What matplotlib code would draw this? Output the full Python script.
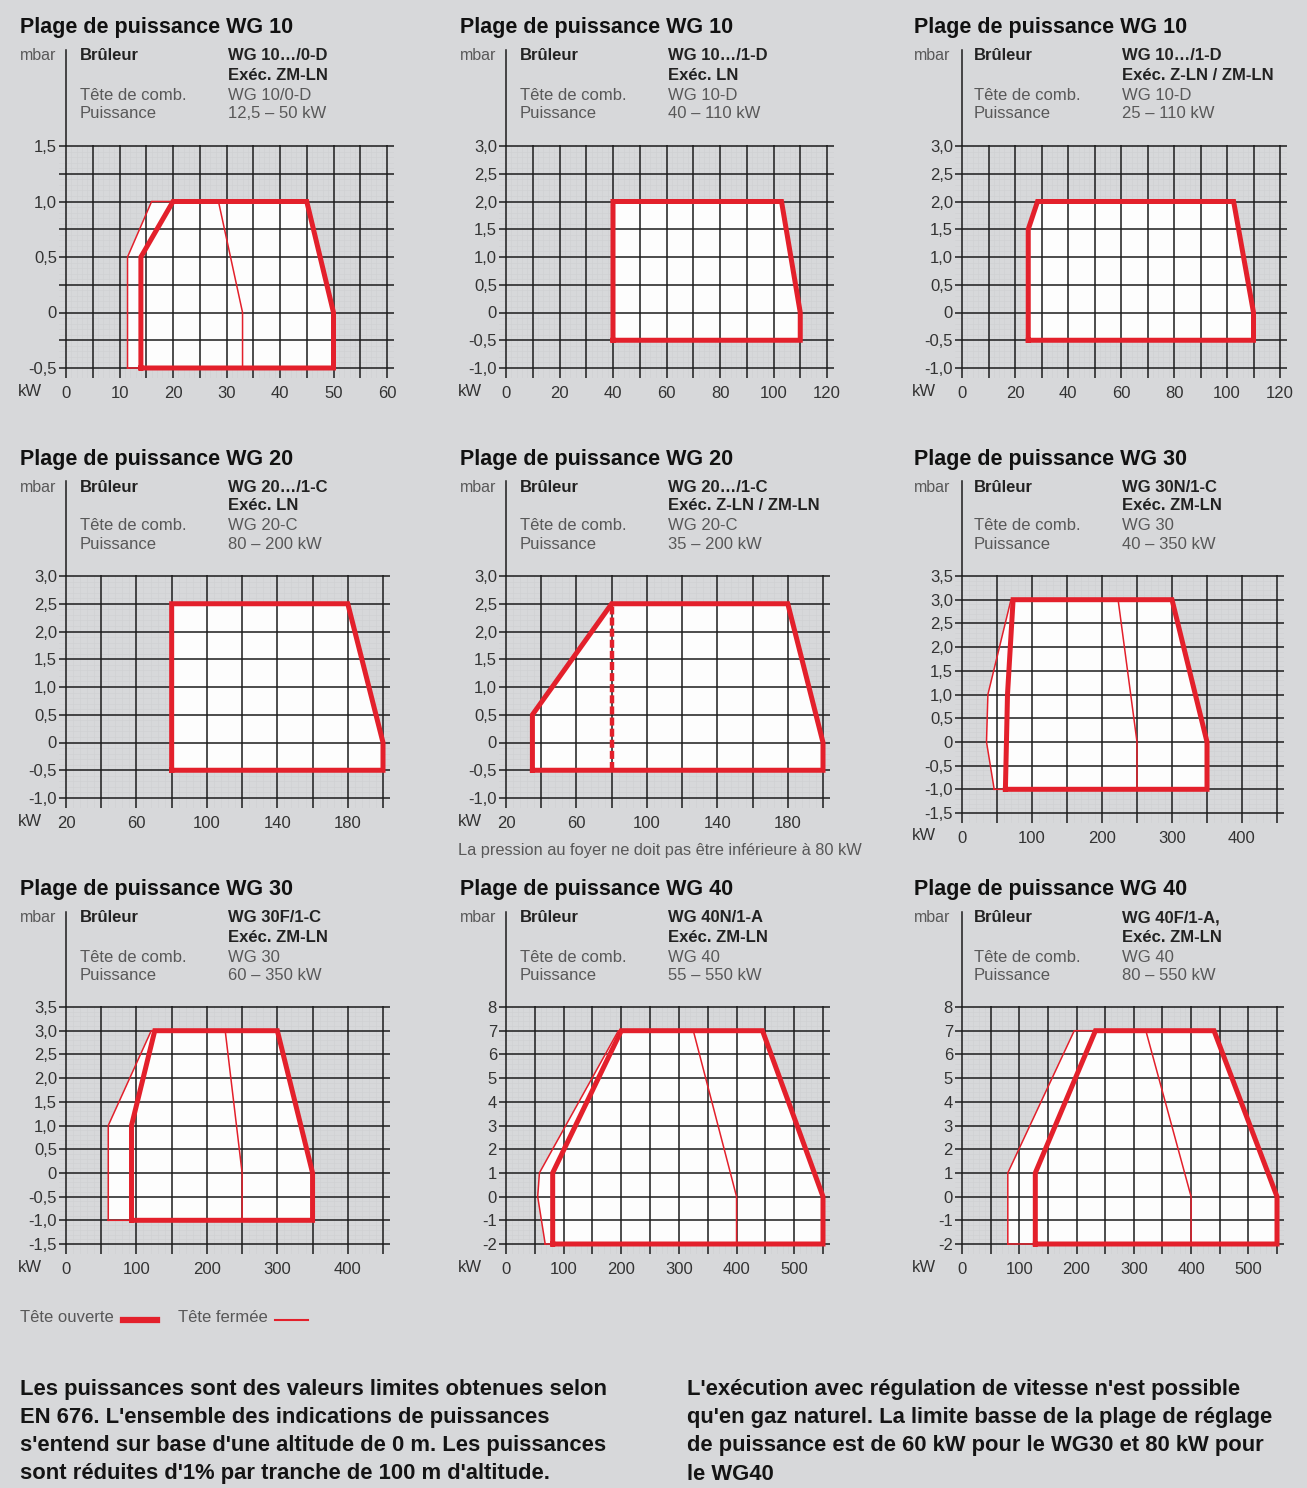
import numpy as np
import matplotlib.pyplot as plt
from matplotlib.lines import Line2D

plt.rcParams['font.family'] = ['Liberation Sans', 'DejaVu Sans']

# panel headers
titles = ["Plage de puissance WG 10", "Plage de puissance WG 10", "Plage de puissance WG 10",
          "Plage de puissance WG 20", "Plage de puissance WG 20", "Plage de puissance WG 30",
          "Plage de puissance WG 30", "Plage de puissance WG 40", "Plage de puissance WG 40"]
burners = ["WG 10…/0-D", "WG 10…/1-D", "WG 10…/1-D", "WG 20…/1-C", "WG 20…/1-C",
           "WG 30N/1-C", "WG 30F/1-C", "WG 40N/1-A", "WG 40F/1-A,"]
execs = ["Exéc. ZM-LN", "Exéc. LN", "Exéc. Z-LN / ZM-LN", "Exéc. LN", "Exéc. Z-LN / ZM-LN",
         "Exéc. ZM-LN", "Exéc. ZM-LN", "Exéc. ZM-LN", "Exéc. ZM-LN"]
heads = ["WG 10/0-D", "WG 10-D", "WG 10-D", "WG 20-C", "WG 20-C", "WG 30", "WG 30", "WG 40", "WG 40"]
powers = ["12,5 – 50 kW", "40 – 110 kW", "25 – 110 kW", "80 – 200 kW", "35 – 200 kW",
          "40 – 350 kW", "60 – 350 kW", "55 – 550 kW", "80 – 550 kW"]

# axis scales (kW / mbar)
x_ranges = [(0, 60), (0, 120), (0, 120), (20, 200), (20, 200), (0, 450), (0, 450), (0, 550), (0, 550)]
x_grid = [5, 10, 10, 20, 20, 50, 50, 50, 50]
x_lab = [10, 20, 20, 40, 40, 100, 100, 100, 100]
y_ranges = [(-0.5, 1.5), (-1, 3), (-1, 3), (-1, 3), (-1, 3), (-1.5, 3.5), (-1.5, 3.5), (-2, 8), (-2, 8)]
y_grid = [0.25, 0.5, 0.5, 0.5, 0.5, 0.5, 0.5, 1, 1]
y_lab = [0.5, 0.5, 0.5, 0.5, 0.5, 0.5, 0.5, 1, 1]

# working ranges: tete ouverte (thick) / tete fermee (thin)
p1_open_x = [14, 14, 20, 45, 50, 50]
p1_open_y = [-0.5, 0.5, 1.0, 1.0, 0, -0.5]
p1_closed_x = [11.5, 11.5, 16, 28.5, 33, 33]
p1_closed_y = [-0.5, 0.5, 1.0, 1.0, 0, -0.5]

p2_open_x = [40, 40, 103, 110, 110]
p2_open_y = [-0.5, 2.0, 2.0, 0, -0.5]

p3_open_x = [25, 25, 28.5, 102.5, 110, 110]
p3_open_y = [-0.5, 1.5, 2.0, 2.0, 0, -0.5]

p4_open_x = [80, 80, 180, 200, 200]
p4_open_y = [-0.5, 2.5, 2.5, 0, -0.5]

p5_open_x = [35, 35, 80, 180, 200, 200]
p5_open_y = [-0.5, 0.5, 2.5, 2.5, 0, -0.5]
p5_limit_x = [80, 80]
p5_limit_y = [-0.5, 2.5]

p6_open_x = [62, 65, 73, 300, 350, 350]
p6_open_y = [-1, 1, 3, 3, 0, -1]
p6_closed_x = [46, 35, 37, 70, 223, 250, 250]
p6_closed_y = [-1, 0, 1, 3, 3, 0, -1]

p7_open_x = [93, 93, 126, 300, 350, 350]
p7_open_y = [-1, 1, 3, 3, 0, -1]
p7_closed_x = [60, 60, 121, 226, 250, 250]
p7_closed_y = [-1, 1, 3, 3, 0, -1]

p8_open_x = [81, 81, 200, 445, 550, 550]
p8_open_y = [-2, 1, 7, 7, 0, -2]
p8_closed_x = [68, 55, 58, 195, 325, 400, 400]
p8_closed_y = [-2, 0, 1, 7, 7, 0, -2]

p9_open_x = [128, 128, 233, 440, 550, 550]
p9_open_y = [-2, 1, 7, 7, 0, -2]
p9_closed_x = [80, 80, 196, 321, 400, 400]
p9_closed_y = [-2, 1, 7, 7, 0, -2]

opens = [(p1_open_x, p1_open_y), (p2_open_x, p2_open_y), (p3_open_x, p3_open_y),
         (p4_open_x, p4_open_y), (p5_open_x, p5_open_y), (p6_open_x, p6_open_y),
         (p7_open_x, p7_open_y), (p8_open_x, p8_open_y), (p9_open_x, p9_open_y)]
closeds = [(p1_closed_x, p1_closed_y), None, None, None, None, (p6_closed_x, p6_closed_y),
           (p7_closed_x, p7_closed_y), (p8_closed_x, p8_closed_y), (p9_closed_x, p9_closed_y)]

BG = '#d7d8da'
RED = '#e3202b'
GRAY = '#585858'
DARK = '#1c1c1c'
W, H = 1307, 1488

# layout in pixels
axis_left = [66, 506, 962]
axis_right = [[387, 827, 1280], [383, 823, 1277], [383, 823, 1277]]
grid_top = [146, 576, 1007]
grid_bottom = [[368, 368, 368], [798, 798, 813], [1244, 1244, 1244]]
col_off = [0, 440, 894]
row_off = [0, 431, 862]
EXT_X, EXT_Y = 7, 10

fig = plt.figure(figsize=(W / 100, H / 100), dpi=100)
fig.patch.set_facecolor(BG)


def ftext(x, y, s, **kw):
    fig.text(x / W, 1 - y / H, s, va='center', **kw)


def fmt_y(v, step):
    if abs(v) < 1e-9:
        return "0"
    if step < 1:
        return f"{v:.1f}".replace(".", ",")
    return f"{v:g}"


for i in range(9):
    r, c = divmod(i, 3)
    x0p, x1p = axis_left[c], axis_right[r][c]
    y1p, y0p = grid_top[r], grid_bottom[r][c]
    xr, yr = x_ranges[i], y_ranges[i]
    sx = (xr[1] - xr[0]) / (x1p - x0p)
    sy = (yr[1] - yr[0]) / (y0p - y1p)
    left, right = x0p - EXT_X, x1p + EXT_X
    top, bottom = y1p - 1, y0p + EXT_Y
    ax = fig.add_axes([left / W, 1 - bottom / H, (right - left) / W, (bottom - top) / H])
    ax.set_facecolor('none')
    ax.set_xlim(xr[0] - EXT_X * sx, xr[1] + EXT_X * sx)
    ax.set_ylim(yr[0] - EXT_Y * sy, yr[1] + sy)
    for s in ax.spines.values():
        s.set_visible(False)

    xt = np.arange(xr[0], xr[1] + 1e-9, x_grid[i])
    yt = np.arange(yr[0], yr[1] + 1e-9, y_grid[i])
    xl = [f"{v:g}" if abs(((v - xr[0]) / x_lab[i]) - round((v - xr[0]) / x_lab[i])) < 1e-6 else ""
          for v in xt]
    yl = [fmt_y(v, y_lab[i]) if abs(((v - yr[0]) / y_lab[i]) - round((v - yr[0]) / y_lab[i])) < 1e-6 else ""
          for v in yt]
    ax.set_xticks(xt)
    ax.set_xticklabels(xl)
    ax.set_yticks(yt)
    ax.set_yticklabels(yl)
    ax.set_xticks(np.arange(xr[0], xr[1] + 1e-9, x_grid[i] / 5), minor=True)
    ax.set_yticks(np.arange(yr[0], yr[1] + 1e-9, y_grid[i] / 5), minor=True)
    ax.tick_params(which='both', length=0)
    ax.tick_params(axis='x', pad=5.5, labelsize=12, labelcolor='#333333')
    ax.tick_params(axis='y', pad=1.5, labelsize=12, labelcolor='#333333')
    # fine grid stays below the white working area
    ax.set_axisbelow(True)
    ax.grid(which='minor', color='#cfd0d2', lw=0.4)

    ox, oy = opens[i]
    cl = closeds[i]
    if cl is not None:
        ax.fill(cl[0], cl[1], color='#fdfdfd', lw=0, zorder=1)
    ax.fill(ox, oy, color='#fdfdfd', lw=0, zorder=1)

    # main grid over the white area
    for v in xt:
        ax.axvline(v, color=DARK, lw=1.1, zorder=2)
    for v in yt:
        ax.axhline(v, color=DARK, lw=1.1, zorder=2)

    if cl is not None:
        ax.plot(cl[0] + cl[0][:1], cl[1] + cl[1][:1], color=RED, lw=1.1, zorder=3,
                solid_joinstyle='miter')
    ax.plot(ox + ox[:1], oy + oy[:1], color=RED, lw=3.6, zorder=4, solid_joinstyle='miter')
    if i == 4:
        ax.plot(p5_limit_x, p5_limit_y, color=RED, lw=3.2, ls=(0, (1.8, 0.7)), zorder=4)

    # tall axis line up to unit label
    fig.add_artist(Line2D([x0p / W, x0p / W], [1 - (y1p - 1) / H, 1 - (50 + row_off[r]) / H],
                          color=DARK, lw=1.1))

    tx, ty = col_off[c], row_off[r]
    ftext(20 + tx, 28 + ty, titles[i], fontsize=15.5, fontweight='bold', color='#111111')
    ftext(20 + tx, 56 + ty, "mbar", fontsize=11.5, color=GRAY)
    ftext(80 + tx, 56 + ty, "Brûleur", fontsize=12, fontweight='bold', color='#222222')
    ftext(228 + tx, 56 + ty, burners[i], fontsize=12, fontweight='bold', color='#222222')
    ftext(228 + tx, 75 + ty, execs[i], fontsize=12, fontweight='bold', color='#222222')
    ftext(80 + tx, 95 + ty, "Tête de comb.", fontsize=12, color=GRAY)
    ftext(228 + tx, 95 + ty, heads[i], fontsize=12, color=GRAY)
    ftext(80 + tx, 114 + ty, "Puissance", fontsize=12, color=GRAY)
    ftext(228 + tx, 114 + ty, powers[i], fontsize=12, color=GRAY)
    ftext(30 + tx, y0p + 23, "kW", fontsize=12, color='#333333', ha='center')

ftext(458, 851, "La pression au foyer ne doit pas être inférieure à 80 kW", fontsize=11.8, color=GRAY)

# legend
ftext(20, 1318, "Tête ouverte", fontsize=12, color=GRAY)
fig.add_artist(Line2D([123 / W, 157 / W], [1 - 1320 / H] * 2, color=RED, lw=4.5))
ftext(178, 1318, "Tête fermée", fontsize=12, color=GRAY)
fig.add_artist(Line2D([275 / W, 308 / W], [1 - 1320 / H] * 2, color=RED, lw=1.5))

notes_left = ["Les puissances sont des valeurs limites obtenues selon",
              "EN 676. L'ensemble des indications de puissances",
              "s'entend sur base d'une altitude de 0 m. Les puissances",
              "sont réduites d'1% par tranche de 100 m d'altitude."]
notes_right = ["L'exécution avec régulation de vitesse n'est possible",
               "qu'en gaz naturel. La limite basse de la plage de réglage",
               "de puissance est de 60 kW pour le WG30 et 80 kW pour",
               "le WG40"]
for k, line in enumerate(notes_left):
    ftext(20, 1390 + 28 * k, line, fontsize=15.8, fontweight='bold', color='#141414')
for k, line in enumerate(notes_right):
    ftext(687, 1390 + 28 * k, line, fontsize=15.8, fontweight='bold', color='#141414')

fig.savefig('out.png', dpi=100, facecolor=BG)
